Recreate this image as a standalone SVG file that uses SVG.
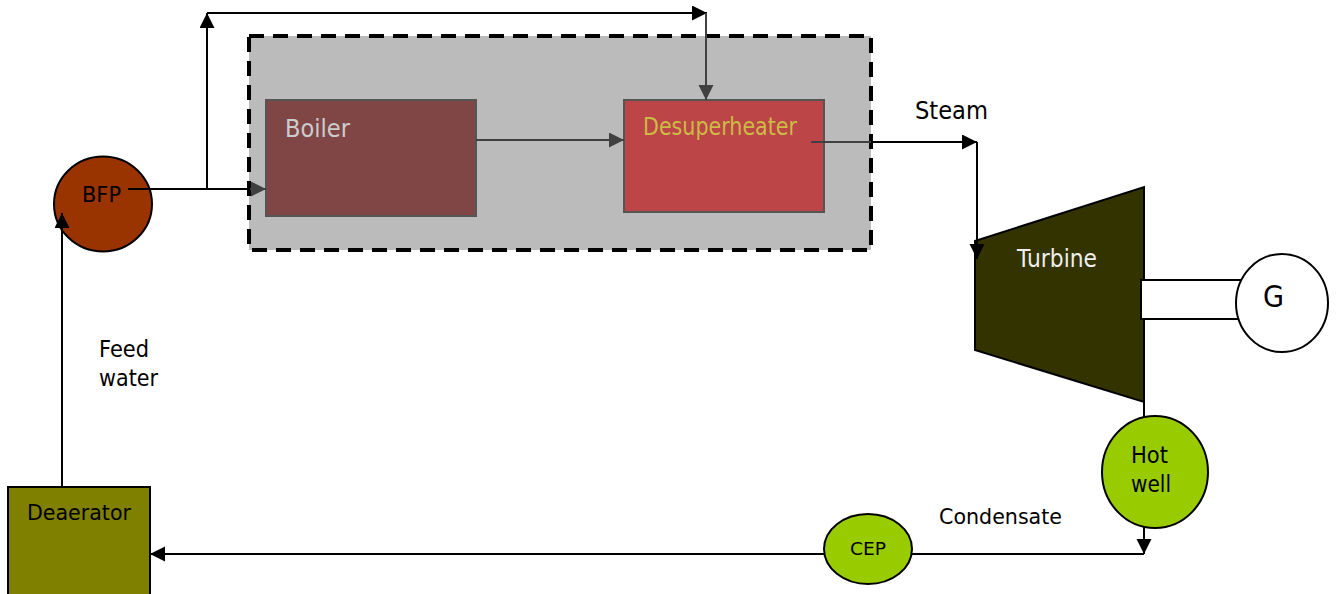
<svg xmlns="http://www.w3.org/2000/svg" width="1336" height="594" viewBox="0 0 1336 594">
<style>
text{font-family:"DejaVu Sans","Liberation Sans",sans-serif;font-size:23px;fill:#000}
.blk{stroke:#000;stroke-width:2;fill:none}
.gry{stroke:#404040;stroke-width:2;fill:none}
</style>
<defs>
<marker id="ab" markerUnits="userSpaceOnUse" markerWidth="16" markerHeight="16" refX="15" refY="7.5" orient="auto"><path d="M0,0 L15,7.5 L0,15 Z" fill="#000"/></marker>
<marker id="ag" markerUnits="userSpaceOnUse" markerWidth="16" markerHeight="16" refX="15" refY="7.5" orient="auto"><path d="M0,0 L15,7.5 L0,15 Z" fill="#404040"/></marker>
</defs>
<g id="group-box"><rect x="249" y="36" width="622" height="214" fill="#BBBBBB" stroke="#000" stroke-width="4" stroke-dasharray="15,9"/></g>
<g id="boiler"><rect x="266" y="100" width="210" height="116" fill="#804545" stroke="#555" stroke-width="2"/><text x="285" y="137" textLength="65" lengthAdjust="spacingAndGlyphs" style="fill:#CCCCCC;font-size:25px">Boiler</text></g>
<g id="desuperheater"><rect x="624" y="100" width="200" height="112" fill="#BC4547" stroke="#555" stroke-width="2"/><text x="643" y="135" textLength="154" lengthAdjust="spacingAndGlyphs" style="fill:#CCBB44;font-size:24px">Desuperheater</text></g>
<g id="bfp"><ellipse cx="103" cy="204" rx="49" ry="47.5" fill="#993300" stroke="#000" stroke-width="2"/><text x="82" y="202" textLength="39" lengthAdjust="spacingAndGlyphs" style="font-size:22px">BFP</text></g>
<g id="steam-label"><text x="915" y="119" textLength="73" lengthAdjust="spacingAndGlyphs" style="font-size:25px">Steam</text></g>
<g id="turbine"><polygon points="975,241 1144,187 1144,402 975,350" fill="#333300" stroke="#000" stroke-width="2"/><text x="1017" y="267" textLength="80" lengthAdjust="spacingAndGlyphs" style="fill:#EEEEEE;font-size:24px">Turbine</text></g>
<g id="shaft"><rect x="1141" y="280" width="100" height="39" fill="#fff" stroke="#000" stroke-width="2"/></g>
<g id="generator"><ellipse cx="1282" cy="303" rx="46" ry="49" fill="#fff" stroke="#000" stroke-width="2"/><text x="1263" y="307" textLength="21" lengthAdjust="spacingAndGlyphs" style="font-size:30px">G</text></g>
<g id="hotwell"><ellipse cx="1155" cy="472" rx="53" ry="56" fill="#99CC00" stroke="#000" stroke-width="2"/><text x="1131" y="463" textLength="37" lengthAdjust="spacingAndGlyphs">Hot</text><text x="1131" y="492" textLength="40" lengthAdjust="spacingAndGlyphs">well</text></g>
<g id="condensate-label"><text x="939" y="524" textLength="123" lengthAdjust="spacingAndGlyphs" style="font-size:21px">Condensate</text></g>
<g id="cep"><ellipse cx="868" cy="549" rx="44" ry="35" fill="#99CC00" stroke="#000" stroke-width="2"/><text x="850" y="555" textLength="36" lengthAdjust="spacingAndGlyphs" style="font-size:18px">CEP</text></g>
<g id="deaerator"><rect x="8" y="487" width="142" height="120" fill="#808000" stroke="#000" stroke-width="2"/><text x="27" y="520" textLength="104" lengthAdjust="spacingAndGlyphs" style="font-size:21px">Deaerator</text></g>
<g id="feedwater-label"><text x="99" y="357" textLength="50" lengthAdjust="spacingAndGlyphs">Feed</text><text x="99" y="386" textLength="59" lengthAdjust="spacingAndGlyphs">water</text></g>
<g id="connectors">
<path class="blk" d="M128,189 H250"/>
<path class="gry" d="M250,189 H266" marker-end="url(#ag)"/>
<path class="blk" d="M207,189 V13" marker-end="url(#ab)"/>
<path class="blk" d="M207,13 H707" marker-end="url(#ab)"/>
<path class="gry" d="M706,13 V100" marker-end="url(#ag)"/>
<path class="gry" d="M476,140 H624" marker-end="url(#ag)"/>
<path class="gry" d="M811,142 H871"/>
<path class="blk" d="M871,142 H977" marker-end="url(#ab)"/>
<path class="blk" d="M977,142 V259" marker-end="url(#ab)"/>
<path class="blk" d="M1144,400 V417"/>
<path class="blk" d="M1144,527 V554" marker-end="url(#ab)"/>
<path class="blk" d="M1144,554 H912"/>
<path class="blk" d="M824,554 H150" marker-end="url(#ab)"/>
<path class="blk" d="M62,487 V213" marker-end="url(#ab)"/>
</g>
</svg>
